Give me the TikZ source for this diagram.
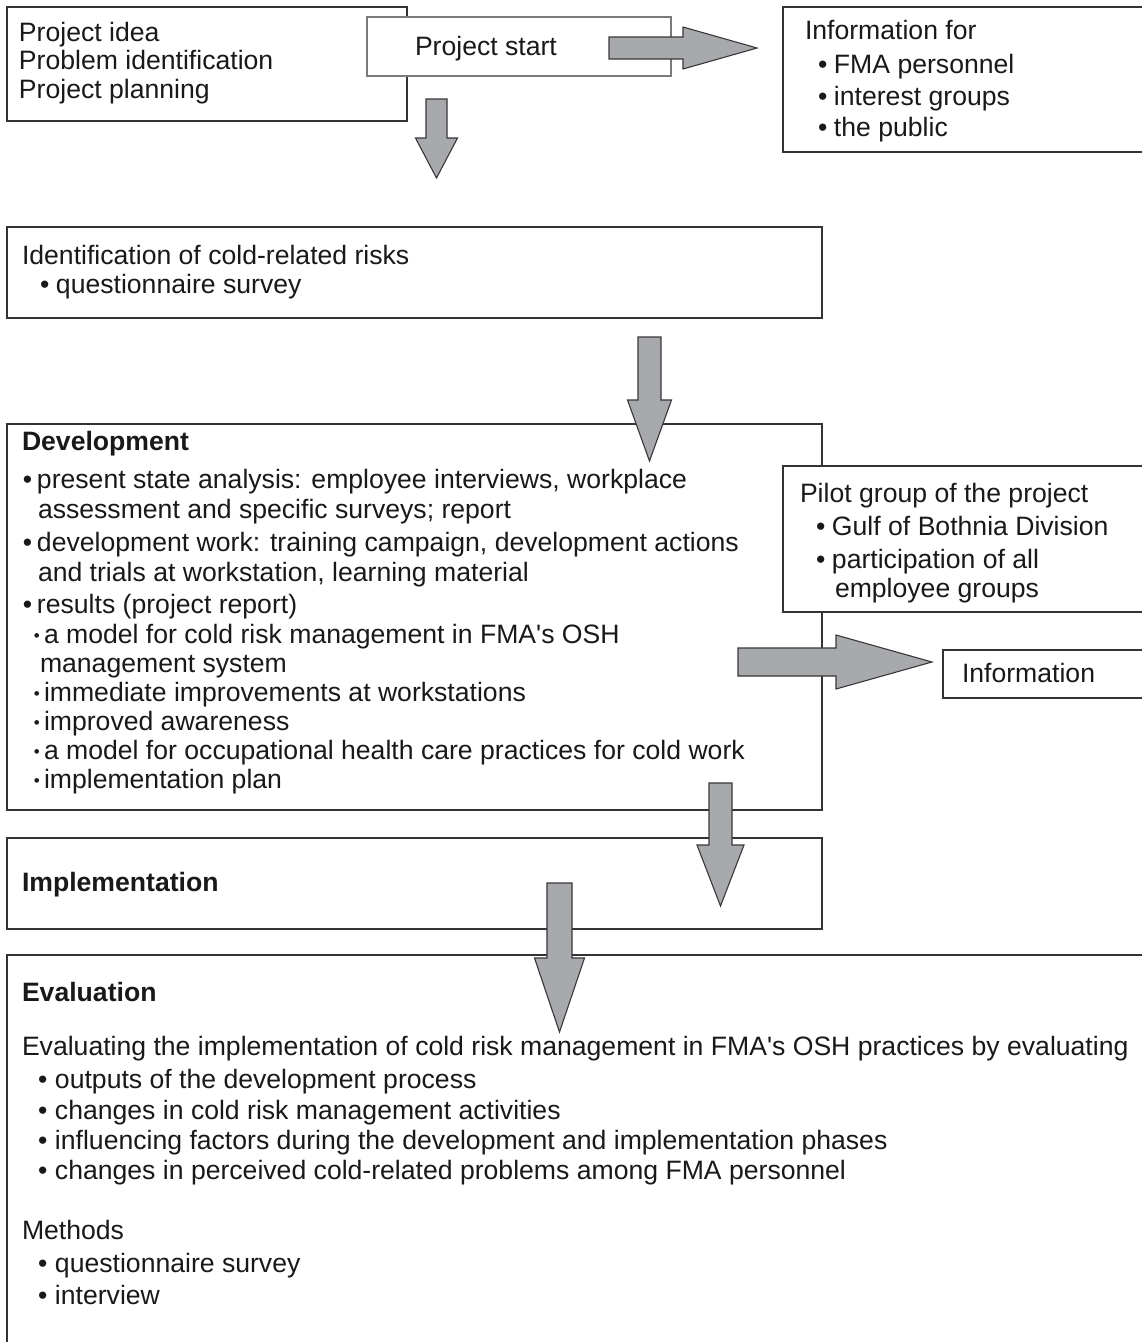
\documentclass[tikz,border=0pt]{standalone}
\usepackage{fontspec}
\setmainfont{Liberation Sans}[Ligatures=TeXOff]
\newcommand\mybul[1]{\makebox[#1][l]{•}}
\newcommand\mysbul[1]{\makebox[#1][l]{{\fontsize{17}{17}\selectfont\raisebox{1.5pt}{•}}}}
\newcommand\DArrow[6]{\draw[blockarrow] (#1-#5,#2) -- (#1+#5,#2) -- (#1+#5,#3) -- (#1+#6,#3) -- (#1,#4) -- (#1-#6,#3) -- (#1-#5,#3) -- cycle;}
\newcommand\RArrow[6]{\draw[blockarrow] (#2,#1-#5) -- (#2,#1+#5) -- (#3,#1+#5) -- (#3,#1+#6) -- (#4,#1) -- (#3,#1-#6) -- (#3,#1-#5) -- cycle;}
\definecolor{boxline}{HTML}{333333}
\definecolor{lightline}{HTML}{7A7A7A}
\definecolor{arrowfill}{HTML}{A7A9AC}
\definecolor{arrowline}{HTML}{383838}
\begin{document}
\begin{tikzpicture}[x=1pt,y=-1pt,
  box/.style={draw=boxline,line width=1.4pt,fill=white,anchor=north west,inner sep=0pt,outer sep=0pt},
  tx/.style={anchor=base west,inner sep=0pt,outer sep=0pt,font=\fontsize{26.6}{30}\selectfont,text=black!90},
  bt/.style={tx,font=\fontsize{26.6}{30}\selectfont\bfseries},
  blockarrow/.style={draw=arrowline,line width=1.1pt,fill=arrowfill,line join=miter}]
\clip (0,0) rectangle (1142,1342);
\fill[white] (0,0) rectangle (1142,1342);
% boxes
\node[box,minimum width=400pt,minimum height=114pt] (A) at (7,7) {};
\node[box,draw=lightline,line width=1.2pt,minimum width=304pt,minimum height=59pt] (B) at (367,17) {};
\node[box,minimum width=380pt,minimum height=145pt] (INF) at (783,7) {};
\node[box,minimum width=815pt,minimum height=91pt] (ID) at (7,227) {};
\node[box,minimum width=815pt,minimum height=386pt] (DEV) at (7,424) {};
\node[box,minimum width=380pt,minimum height=146pt] (PIL) at (783,466) {};
\node[box,minimum width=220pt,minimum height=48pt] (INFO) at (943,650) {};
\node[box,minimum width=815pt,minimum height=91pt] (IMP) at (7,838) {};
\node[box,minimum width=1160pt,minimum height=420pt] (EVA) at (7,955) {};
% arrows
\RArrow{48}{609}{683}{757}{11}{21}
\DArrow{436.5}{99}{138}{178}{10.5}{21}
\DArrow{649.5}{337}{400}{461}{11.5}{22}
\RArrow{662}{738}{836}{932}{14}{27}
\DArrow{720.5}{783}{845}{906}{11.5}{23.5}
\DArrow{559.5}{883}{958}{1032}{12.5}{25}
% texts
\node[tx] (a1) at (19,41) {Project idea};
\node[tx] (a2) at (19,69) {Problem identification};
\node[tx] (a3) at (19,98) {Project planning};
\node[tx] (b1) at (415,55) {Project start};
\node[tx] (f1) at (805,39) {Information for};
\node[tx] (f2) at (818,73) {\mybul{16pt}FMA personnel};
\node[tx] (f3) at (818,105) {\mybul{16pt}interest groups};
\node[tx] (f4) at (818,136) {\mybul{16pt}the public};
\node[tx] (i1) at (22,264) {Identification of cold-related risks};
\node[tx] (i2) at (40,293) {\mybul{16pt}questionnaire survey};
\node[bt] (d0) at (22,450) {Development};
\node[tx] (d1) at (23,488) {\mybul{14pt}present state analysis: employee interviews, workplace};
\node[tx] (d2) at (38,518) {assessment and specific surveys; report};
\node[tx] (d3) at (23,551) {\mybul{14pt}development work: training campaign, development actions};
\node[tx] (d4) at (38,581) {and trials at workstation, learning material};
\node[tx] (d5) at (23,613) {\mybul{14pt}results (project report)};
\node[tx] (d6) at (34,643) {\mysbul{10pt}a model for cold risk management in FMA's OSH};
\node[tx] (d7) at (40,672) {management system};
\node[tx] (d8) at (34,701) {\mysbul{10pt}immediate improvements at workstations};
\node[tx] (d9) at (34,730) {\mysbul{10pt}improved awareness};
\node[tx] (d10) at (34,759) {\mysbul{10pt}a model for occupational health care practices for cold work};
\node[tx] (d11) at (34,788) {\mysbul{10pt}implementation plan};
\node[tx] (p1) at (800,502) {Pilot group of the project};
\node[tx] (p2) at (816,535) {\mybul{16pt}Gulf of Bothnia Division};
\node[tx] (p3) at (816,568) {\mybul{16pt}participation of all};
\node[tx] (p4) at (835,597) {employee groups};
\node[tx] (n1) at (962,682) {Information};
\node[bt] (m1) at (22,891) {Implementation};
\node[bt] (e0) at (22,1001) {Evaluation};
\node[tx] (e1) at (22,1055) {Evaluating the implementation of cold risk management in FMA's OSH practices by evaluating};
\node[tx] (e2) at (38,1088) {\mybul{17pt}outputs of the development process};
\node[tx] (e3) at (38,1119) {\mybul{17pt}changes in cold risk management activities};
\node[tx] (e4) at (38,1149) {\mybul{17pt}influencing factors during the development and implementation phases};
\node[tx] (e5) at (38,1179) {\mybul{17pt}changes in perceived cold-related problems among FMA personnel};
\node[tx] (e6) at (22,1239) {Methods};
\node[tx] (e7) at (38,1272) {\mybul{17pt}questionnaire survey};
\node[tx] (e8) at (38,1304) {\mybul{17pt}interview};
\end{tikzpicture}
\end{document}
